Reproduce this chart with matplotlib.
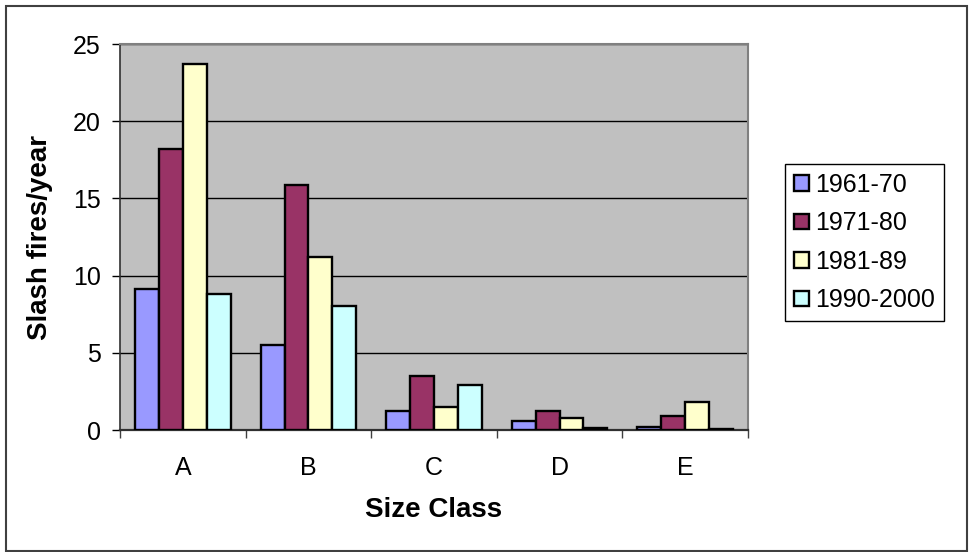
import matplotlib
matplotlib.use("Agg")
import matplotlib.pyplot as plt
from matplotlib.patches import Rectangle
import numpy as np

plt.rcParams['font.family'] = ['Liberation Sans', 'DejaVu Sans']

# slash fires per year by size class and decade
size_classes = ['A', 'B', 'C', 'D', 'E']
periods = ['1961-70', '1971-80', '1981-89', '1990-2000']
fires_1961_70 = [9.1, 5.5, 1.2, 0.6, 0.2]
fires_1971_80 = [18.2, 15.9, 3.5, 1.2, 0.9]
fires_1981_89 = [23.7, 11.2, 1.5, 0.8, 1.8]
fires_1990_2000 = [8.8, 8.0, 2.9, 0.1, 0.05]
series = [fires_1961_70, fires_1971_80, fires_1981_89, fires_1990_2000]
colors = ['#9999FF', '#993366', '#FFFFCC', '#CCFFFF']
y_ticks = [0, 5, 10, 15, 20, 25]

fig = plt.figure(figsize=(9.69, 5.52), dpi=100)
ax = fig.add_axes([120 / 969, 1 - 430 / 552, 628 / 969, 386 / 552])
ax.set_facecolor('#C0C0C0')

x = np.arange(len(size_classes))
width = 0.19
for i, (vals, label, c) in enumerate(zip(series, periods, colors)):
    ax.bar(x + (i - 1.5) * width, vals, width, color=c, edgecolor='black',
           linewidth=1.7, label=label, zorder=3)

ax.set_xlim(-0.5, len(size_classes) - 0.5)
ax.set_ylim(0, 25)
ax.set_yticks(y_ticks)
ax.yaxis.grid(True, color='black', linewidth=1.0, zorder=1)
ax.set_axisbelow(True)

# category labels centred, tick marks between groups
ax.set_xticks(x)
ax.set_xticklabels(size_classes)
ax.set_xticks(np.arange(-0.5, len(size_classes)), minor=True)
ax.tick_params(axis='x', which='major', length=0, pad=19, labelsize=18)
ax.tick_params(axis='x', which='minor', length=6, width=1, color='#404040')
ax.tick_params(axis='y', length=6, width=1, pad=8, labelsize=18)

for side in ['top', 'right']:
    ax.spines[side].set_color('#808080')
    ax.spines[side].set_linewidth(1.5)
ax.spines['left'].set_color('#303030')
ax.spines['bottom'].set_color('#303030')
ax.spines['left'].set_linewidth(1.2)
ax.spines['bottom'].set_linewidth(1.6)

ax.set_xlabel('Size Class', fontsize=20, fontweight='bold', labelpad=12)
ax.set_ylabel('Slash fires/year', fontsize=20, fontweight='bold', labelpad=14)

leg = ax.legend(loc='upper left', bbox_to_anchor=(785 / 969, 1 - 164 / 552),
                bbox_transform=fig.transFigure, fontsize=18, frameon=True,
                fancybox=False, edgecolor='black', framealpha=1,
                handlelength=0.6, handleheight=0.6, handletextpad=0.25,
                labelspacing=0.58, borderpad=0.35, borderaxespad=0)
leg.get_frame().set_linewidth(1.0)

# outer chart border
fig.patches.append(Rectangle((6 / 969, 1 / 552), 961 / 969, 545 / 552,
                             transform=fig.transFigure, fill=False,
                             edgecolor='#404040', linewidth=1.5))

fig.savefig('out.png', dpi=100)
